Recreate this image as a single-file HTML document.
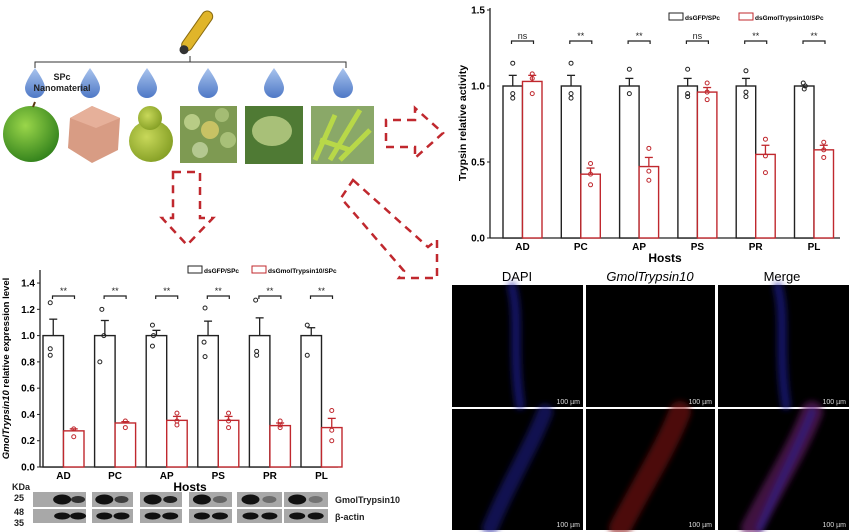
<!DOCTYPE html>
<html><head><meta charset="utf-8"><style>
html,body{margin:0;padding:0;background:#fff;}
svg{display:block;font-family:"Liberation Sans",Arial,sans-serif;}
</style></head><body>
<svg id="s" width="850" height="532" viewBox="0 0 850 532" xmlns="http://www.w3.org/2000/svg">
<defs>
<radialGradient id="ap" cx="40%" cy="35%" r="70%"><stop offset="0" stop-color="#9ad64a"/><stop offset="1" stop-color="#2f7f1a"/></radialGradient>
<radialGradient id="pr" cx="40%" cy="40%" r="70%"><stop offset="0" stop-color="#c8d85a"/><stop offset="1" stop-color="#7f9a20"/></radialGradient>
<linearGradient id="dr" x1="0" y1="0" x2="0" y2="1"><stop offset="0" stop-color="#a9c4ee"/><stop offset="1" stop-color="#4e78c6"/></linearGradient>
<filter id="bl3" x="-50%" y="-50%" width="200%" height="200%"><feGaussianBlur stdDeviation="3"/></filter>
</defs>
<g transform="rotate(-55 197 32)"><rect x="175" y="26" width="46" height="11" rx="5.5" fill="#e0b52a" stroke="#8a6b10" stroke-width="1"/><circle cx="175" cy="31.5" r="4.5" fill="#333"/></g>
<path d="M35 68 V62 H346 V68 M190 62 V56" fill="none" stroke="#333" stroke-width="1"/>
<g fill="url(#dr)">
<path d="M35 68 Q45 82 45 88 A10 10 0 0 1 25 88 Q25 82 35 68Z"/>
<path d="M90 68 Q100 82 100 88 A10 10 0 0 1 80 88 Q80 82 90 68Z"/>
<path d="M147 68 Q157 82 157 88 A10 10 0 0 1 137 88 Q137 82 147 68Z"/>
<path d="M208 68 Q218 82 218 88 A10 10 0 0 1 198 88 Q198 82 208 68Z"/>
<path d="M274 68 Q284 82 284 88 A10 10 0 0 1 264 88 Q264 82 274 68Z"/>
<path d="M343 68 Q353 82 353 88 A10 10 0 0 1 333 88 Q333 82 343 68Z"/>
</g>
<text x="62" y="80" font-size="9" font-weight="bold" text-anchor="middle" fill="#222">SPc</text>
<text x="62" y="91" font-size="9" font-weight="bold" text-anchor="middle" fill="#222">Nanomaterial</text>
<ellipse cx="31" cy="134" rx="28" ry="28" fill="url(#ap)"/>
<path d="M33 107 L35 102" stroke="#5a3a10" stroke-width="2"/>
<path d="M70 118 L92 106 L120 118 L118 150 L92 163 L68 148Z" fill="#d89c84"/>
<path d="M70 118 L92 106 L120 118 L96 128Z" fill="#e6b09a"/>
<ellipse cx="151" cy="141" rx="22" ry="21" fill="url(#pr)"/>
<ellipse cx="150" cy="118" rx="12" ry="12" fill="url(#pr)"/>
<rect x="180" y="106" width="57" height="57" fill="#7e9a52"/>
<circle cx="192" cy="122" r="8" fill="#b8cc86"/><circle cx="210" cy="130" r="9" fill="#c8c264"/><circle cx="228" cy="140" r="8" fill="#a8c078"/><circle cx="200" cy="150" r="8" fill="#b4c890"/><circle cx="222" cy="115" r="7" fill="#a4bc74"/>
<rect x="245" y="106" width="58" height="58" fill="#4f7a34"/>
<ellipse cx="272" cy="131" rx="20" ry="15" fill="#a8c078"/>
<rect x="311" y="106" width="63" height="58" fill="#8aa868"/>
<path d="M315 160 L335 115 M330 160 L360 110 M340 160 L370 130 M320 140 L350 150" stroke="#b8d848" stroke-width="5"/>
<g fill="none" stroke="#c0282e" stroke-width="2.5" stroke-dasharray="8,6">
<path d="M415 120 H386 V147 H415 V158 L443 133 L415 108 Z"/>
<path d="M173 172 H200 V218 H213 L187 245 L162 218 H173 Z"/>
<path d="M353 180 L428 247 L437 240 L437 278 L399 278 L404 271 L341 198 Z"/>
</g>
<g id="c1"></g><g id="c2"></g>
<text x="517" y="281" font-size="13" text-anchor="middle">DAPI</text>
<text x="650" y="281" font-size="13" font-style="italic" text-anchor="middle">GmolTrypsin10</text>
<text x="782" y="281" font-size="13" text-anchor="middle">Merge</text>
<g fill="#000">
<rect x="452" y="285" width="131" height="122"/><rect x="586" y="285" width="129" height="122"/><rect x="718" y="285" width="131" height="122"/>
<rect x="452" y="409" width="131" height="121"/><rect x="586" y="409" width="129" height="121"/><rect x="718" y="409" width="131" height="121"/>
</g>
<g stroke-linecap="round" fill="none" filter="url(#bl3)">
<path d="M512 287 C520 320 512 350 520 405" stroke="#2222aa" stroke-width="10" opacity=".55"/>
<path d="M778 287 C786 320 778 350 786 405" stroke="#2222aa" stroke-width="10" opacity=".55"/>
<path d="M545 412 C530 450 510 480 490 528" stroke="#2020a0" stroke-width="16" opacity=".5"/>
<path d="M680 412 C665 450 645 480 620 528" stroke="#8a1a1a" stroke-width="22" opacity=".55"/>
<path d="M812 412 C797 450 777 480 752 528" stroke="#6a1a6a" stroke-width="22" opacity=".6"/>
<path d="M812 412 C797 450 780 480 760 528" stroke="#2828b0" stroke-width="8" opacity=".45"/>
</g>
<g fill="#ddd" font-size="7" text-anchor="end">
<text x="580" y="404">100 µm</text><text x="712" y="404">100 µm</text><text x="846" y="404">100 µm</text>
<text x="580" y="527">100 µm</text><text x="712" y="527">100 µm</text><text x="846" y="527">100 µm</text>
</g>
<g id="bl"></g>
<g font-size="9" font-weight="bold" fill="#222">
<text x="12" y="490">KDa</text><text x="14" y="501">25</text><text x="14" y="515">48</text><text x="14" y="526">35</text>
<text x="335" y="503">GmolTrypsin10</text><text x="335" y="520">β-actin</text>
</g>
</svg>
<script>
var NS="http://www.w3.org/2000/svg";
function el(p,t,a,txt){var e=document.createElementNS(NS,t);for(var k in a)e.setAttribute(k,a[k]);if(txt!=null)e.textContent=txt;p.appendChild(e);return e;}
function chart(g,o){
 var y=function(v){return o.y0-v*o.k;};
 el(g,'line',{x1:o.ax,y1:o.y0,x2:o.ax,y2:o.top,stroke:'#222','stroke-width':1.3});
 el(g,'line',{x1:o.ax,y1:o.y0,x2:o.ax2,y2:o.y0,stroke:'#222','stroke-width':1.3});
 o.ticks.forEach(function(t){el(g,'line',{x1:o.ax-3,y1:y(t),x2:o.ax,y2:y(t),stroke:'#222'});
  el(g,'text',{x:o.ax-5,y:y(t)+3.5,'font-size':10,'font-weight':'bold','text-anchor':'end'},t.toFixed(1));});
 var cats=['AD','PC','AP','PS','PR','PL'];
 cats.forEach(function(c,i){
  var bx=o.bx+o.sp*i, w=o.bw;
  [[o.b[i],o.be[i],'#222',bx,o.bp[i]],[o.r[i],o.re[i],'#c0282e',bx+w,o.rp[i]]].forEach(function(d){
   el(g,'rect',{x:d[3],y:y(d[0]),width:w,height:d[0]*o.k,fill:'#fff',stroke:d[2],'stroke-width':1.4});
   var cx=d[3]+w/2;
   el(g,'line',{x1:cx,y1:y(d[0]),x2:cx,y2:y(d[1]),stroke:d[2],'stroke-width':1.3});
   el(g,'line',{x1:cx-4,y1:y(d[1]),x2:cx+4,y2:y(d[1]),stroke:d[2],'stroke-width':1.3});
   d[4].forEach(function(p){el(g,'circle',{cx:cx+p[0],cy:y(p[1]),r:2,fill:'none',stroke:d[2],'stroke-width':1});});
  });
  var mx=bx+w;
  el(g,'path',{d:'M'+(mx-11)+' '+(o.sy+3)+'V'+o.sy+'H'+(mx+11)+'V'+(o.sy+3),fill:'none',stroke:'#222','stroke-width':1.2});
  el(g,'text',{x:mx,y:o.sy-2,'font-size':9,'text-anchor':'middle',fill:'#222'},o.sig[i]);
  el(g,'text',{x:mx,y:o.y0+12,'font-size':10,'font-weight':'bold','text-anchor':'middle'},c);
 });
 el(g,'text',{x:o.hx,y:o.y0+24,'font-size':12,'font-weight':'bold','text-anchor':'middle'},'Hosts');
 var yl=el(g,'text',{x:0,y:0,'font-size':o.yfs,'font-weight':'bold','text-anchor':'middle',transform:'translate('+o.ylx+' '+((o.y0+o.top)/2)+') rotate(-90)'});
 o.yl(yl);
 el(g,'rect',{x:o.lx,y:o.ly,width:14,height:7,fill:'#fff',stroke:'#222'});
 el(g,'text',{x:o.lx+16,y:o.ly+7,'font-size':6.5,'font-weight':'bold'},o.l1);
 el(g,'rect',{x:o.lx2,y:o.ly,width:14,height:7,fill:'#fff',stroke:'#c0282e'});
 el(g,'text',{x:o.lx2+16,y:o.ly+7,'font-size':6.5,'font-weight':'bold'},o.l2);
}
chart(document.getElementById('c1'),{y0:238,k:152,top:8,ax:490,ax2:840,ticks:[0,0.5,1,1.5],bx:503,sp:58.3,bw:19.5,
 b:[1,1,1,1,1,1],be:[1.07,1.07,1.05,1.05,1.05,1.0],r:[1.03,0.42,0.47,0.96,0.55,0.58],re:[1.07,0.46,0.53,0.99,0.61,0.61],
 bp:[[[0,1.15],[0,0.95],[0,0.92]],[[0,1.15],[0,0.95],[0,0.92]],[[0,1.11],[0,0.95]],[[0,1.11],[0,0.95],[0,0.93]],[[0,1.1],[0,0.96],[0,0.93]],[[-1,1.02],[1,1.0],[0,0.98]]],
 rp:[[[0,1.08],[0,1.05],[0,0.95]],[[0,0.49],[0,0.42],[0,0.35]],[[0,0.59],[0,0.44],[0,0.38]],[[0,1.02],[0,0.96],[0,0.91]],[[0,0.65],[0,0.54],[0,0.43]],[[0,0.63],[0,0.58],[0,0.53]]],
 sy:41,sig:['ns','**','**','ns','**','**'],hx:665,ylx:466,yfs:10.5,
 yl:function(t){t.textContent='Trypsin relative activity';},
 lx:669,ly:13,l1:'dsGFP/SPc',lx2:739,l2:'dsGmolTrypsin10/SPc'});
chart(document.getElementById('c2'),{y0:467,k:131.4,top:270,ax:40,ax2:338,ticks:[0,0.2,0.4,0.6,0.8,1,1.2,1.4],bx:43,sp:51.6,bw:20.5,
 b:[1,1,1,1,1,1],be:[1.125,1.115,1.04,1.11,1.135,1.06],r:[0.275,0.335,0.355,0.355,0.315,0.30],re:[0.29,0.345,0.385,0.385,0.335,0.37],
 bp:[[[-3,1.25],[-3,0.9],[-3,0.85]],[[-3,1.2],[-1,1.0],[-5,0.8]],[[-4,1.08],[-3,1.0],[-4,0.92]],[[-3,1.21],[-4,0.95],[-3,0.84]],[[-4,1.27],[-3,0.88],[-3,0.85]],[[-4,1.08],[-4,0.85]]],
 rp:[[[0,0.29],[0,0.23]],[[0,0.35],[0,0.3]],[[0,0.41],[0,0.35],[0,0.32]],[[0,0.41],[0,0.35],[0,0.3]],[[0,0.35],[0,0.32],[0,0.3]],[[0,0.43],[0,0.28],[0,0.2]]],
 sy:296,sig:['**','**','**','**','**','**'],hx:190,ylx:9,yfs:9.5,
 yl:function(t){el(t,'tspan',{'font-style':'italic'},'GmolTrypsin10');el(t,'tspan',{},' relative expression level');},
 lx:188,ly:266,l1:'dsGFP/SPc',lx2:252,l2:'dsGmolTrypsin10/SPc'});
var bl=document.getElementById('bl');
[[33,86],[92,133],[140,182],[189,232],[237,282],[284,328]].forEach(function(b,i){
 el(bl,'rect',{x:b[0],y:492,width:b[1]-b[0],height:15,fill:'#a8a8a8'});
 el(bl,'rect',{x:b[0],y:509,width:b[1]-b[0],height:14,fill:'#a8a8a8'});
 var w=b[1]-b[0], c1=b[0]+w*0.3, c2=b[0]+w*0.72;
 if(i==0){c1=b[0]+w*0.55;c2=b[0]+w*0.85;}
 var s2=[0.8,0.7,0.9,0.45,0.4,0.35][i];
 el(bl,'ellipse',{cx:c1,cy:499.5,rx:9,ry:5,fill:'#111'});
 el(bl,'ellipse',{cx:c2,cy:499.5,rx:7,ry:3.5,fill:'#111',opacity:s2});
 el(bl,'ellipse',{cx:c1,cy:516,rx:8,ry:3.5,fill:'#111'});
 el(bl,'ellipse',{cx:c2,cy:516,rx:8,ry:3.5,fill:'#111'});
});
</script>
</body></html>
